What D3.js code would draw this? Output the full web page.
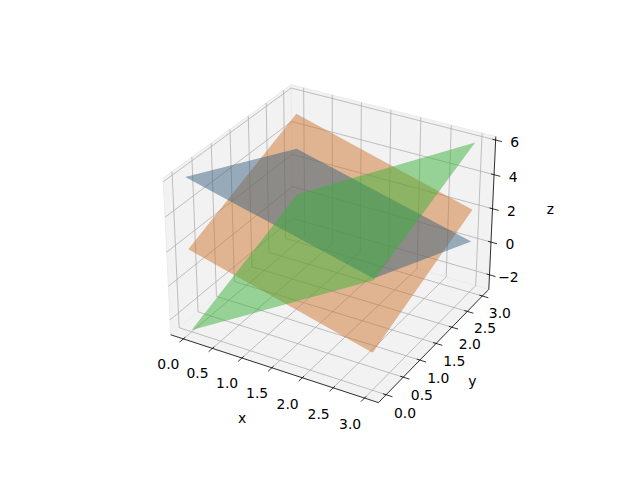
<!DOCTYPE html>
<html><head><meta charset="utf-8">
<script src="https://cdn.jsdelivr.net/npm/d3@7"></script>
<style>body{margin:0;background:#fff}text{font-family:"DejaVu Sans",sans-serif;font-size:13.9px;fill:#000}</style>
</head><body><svg id="c" width="640" height="480"></svg>
<script>
// data
const xTicks = [0, 0.5, 1, 1.5, 2, 2.5, 3];
const yTicks = [0, 0.5, 1, 1.5, 2, 2.5, 3];
const zTicks = [-2, 0, 2, 4, 6];
const cornerX = [0, 3, 3, 0];
const cornerY = [0, 0, 3, 3];
const zBlue   = [6.1, 3.5, 0.2, 2.9];
const zOrange = [2.0, -0.7, 2.1, 5.0];
const zGreen  = [-2.8, 3.4, 6.0, 0.1];
const planeNames = ["orange", "blue", "green"];

const xlim = [-0.22, 3.22], ylim = [-0.22, 3.22], zlim = [-2.9, 6.2];
const hx = 0.595, hz = 0.4465;
const sx = d3.scaleLinear().domain(xlim).range([-hx, hx]);
const sy = d3.scaleLinear().domain(ylim).range([-hx, hx]);
const sz = d3.scaleLinear().domain(zlim).range([-hz, hz]);
const U = [0.866, 0.5, 0], V = [-0.25, 0.433, 0.866], W = [0.433, -0.75, 0.5];
const K = 2000, CX = 332.7, CY = 236;
function P(x, y, z) {
  const q = [sx(x), sy(y), sz(z)];
  const dot = a => a[0]*q[0] + a[1]*q[1] + a[2]*q[2];
  const d = 10 - dot(W);
  return [CX + K*dot(U)/d, CY - K*dot(V)/d];
}
const svg = d3.select("#c");
const line = d3.line();
const [x0, x1] = xlim, [y0, y1] = ylim, [z0, z1] = zlim;

// panes
[[[x0,y0,z0],[x1,y0,z0],[x1,y1,z0],[x0,y1,z0]],
 [[x0,y0,z0],[x0,y1,z0],[x0,y1,z1],[x0,y0,z1]],
 [[x0,y1,z0],[x1,y1,z0],[x1,y1,z1],[x0,y1,z1]]].forEach(p => {
  svg.append("path").attr("d", line(p.map(c => P(...c))) + "Z")
    .attr("fill", "#f2f2f2").attr("stroke", "#ebebeb").attr("stroke-width", 1);
});
// grid
const g = svg.append("g").attr("stroke", "#b0b0b0").attr("stroke-width", 0.8).attr("fill", "none");
xTicks.forEach(t => g.append("path").attr("d", line([P(t,y0,z0), P(t,y1,z0), P(t,y1,z1)])));
yTicks.forEach(t => g.append("path").attr("d", line([P(x1,t,z0), P(x0,t,z0), P(x0,t,z1)])));
zTicks.forEach(t => g.append("path").attr("d", line([P(x0,y0,t), P(x0,y1,t), P(x1,y1,t)])));

// axis lines
const ax = svg.append("g").attr("stroke", "#000").attr("stroke-width", 0.8).attr("fill", "none");
ax.append("path").attr("d", line([P(x0,y0,z0), P(x1,y0,z0)]));
ax.append("path").attr("d", line([P(x1,y0,z0), P(x1,y1,z0)]));
ax.append("path").attr("d", line([P(x1,y1,z0), P(x1,y1,z1)]));
xTicks.forEach(t => ax.append("path").attr("d", line([P(t,y0+0.05,z0), P(t,y0-0.1,z0)])));
yTicks.forEach(t => ax.append("path").attr("d", line([P(x1-0.05,t,z0), P(x1+0.1,t,z0)])));
zTicks.forEach(t => ax.append("path").attr("d", line([P(x1-0.05,y1,t), P(x1+0.1,y1,t)])));

// planes
const colors = {blue:"rgb(58,98,128)", orange:"rgb(208,118,48)", green:"rgb(58,178,58)"};
const zs = {blue:zBlue, orange:zOrange, green:zGreen};
planeNames.forEach(n => {
  const pts = cornerX.map((x, i) => P(x, cornerY[i], zs[n][i]));
  svg.append("path").attr("d", line(pts) + "Z").attr("fill", colors[n]).attr("fill-opacity", 0.5);
});

// labels
const fmt = d3.format(".1f");
function txt(p, s, dx, dy) {
  svg.append("text").attr("x", p[0] + (dx||0)).attr("y", p[1] + (dy||0))
    .attr("text-anchor", "middle").attr("dominant-baseline", "central").text(s);
}
xTicks.forEach(t => txt(P(t, y0-0.4, z0-0.7), fmt(t)));
yTicks.forEach(t => txt(P(x1+0.3, t, z0-0.7), fmt(t)));
zTicks.forEach(t => txt(P(x1, y1, t), t < 0 ? "\u2212" + (-t) : String(t), 19, 2));
txt(P(1.5, y0-0.8, z0-1.3), "x");
txt(P(x1+0.6, 1.5, z0-1.6), "y");
txt(P(x1, y1, 2.0), "z", 58, 0);
</script></body></html>
